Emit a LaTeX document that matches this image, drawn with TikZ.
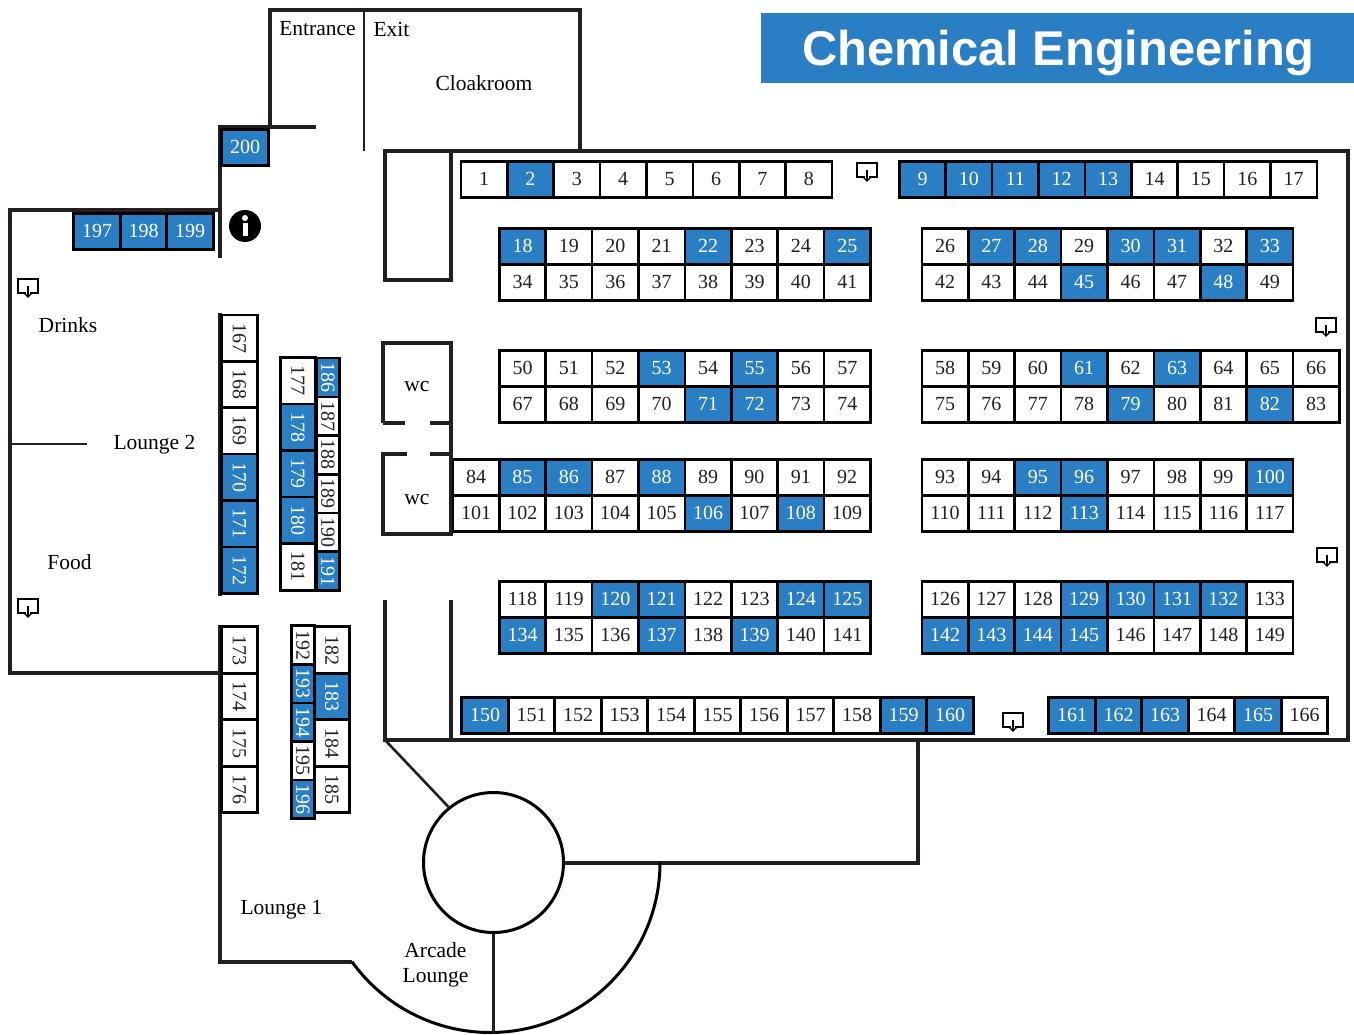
\documentclass[tikz,border=0pt]{standalone}
\usepackage{fontspec}
\setmainfont{Liberation Serif}
\setsansfont{Liberation Sans}
\usetikzlibrary{positioning}
\definecolor{boothblue}{HTML}{2A7EC4}
\definecolor{wallgray}{HTML}{231F20}
\tikzset{
 wall/.style={draw=wallgray,line width=4pt},
 thinwall/.style={draw=wallgray,line width=2.6pt},
 booth/.style={draw=black,line width=2.6pt,inner sep=0pt,font=\fontsize{20}{20}\selectfont},
 wt/.style={booth,fill=white,text=wallgray},
 bl/.style={booth,fill=boothblue,text=white},
 place/.style={text=black,font=\fontsize{21.5}{25}\selectfont,align=center,inner sep=0pt},
 exitmark/.pic={
  \draw[black,line width=1.1pt] (-2,6)--(-10,6)--(-10,-8)--(10,-8)--(10,6)--(2,6);
  \draw[black,line width=1.1pt] (0,-1)--(0,10);
  \draw[black,line width=1.1pt] (-3.5,6.5)--(0,10)--(3.5,6.5);
 }
}
\newcommand{\boothrow}[4]{\foreach \n/\c [count=\i from 0] in {#4}
 \node[\c,minimum width=#3,minimum height=36] (b\n) at ({#1+\i*#3},#2+0.3) {\n};}
\newcommand{\boothcol}[5]{\foreach \n/\c [count=\i from 0] in {#5}
 \node[\c,rotate=-90,minimum width=#3,minimum height=#4] (b\n) at (#1,{#2+\i*#3}) {\n};}
\begin{document}
\begin{tikzpicture}[x=1pt,y=-1pt]
 \useasboundingbox (0,0) rectangle (1354,1035);
 \fill[boothblue] (761,13) rectangle (1354,83);
 \node[text=white,inner sep=0pt,font=\sffamily\bfseries\fontsize{48.8}{50}\selectfont] (title) at (1058.5,53) {Chemical Engineering};

 \draw[wall] (270,127)--(270,10)--(580,10)--(580,151);
 \draw[thinwall] (364,10)--(364,151);
 \draw[wall] (316,127)--(220,127)--(220,258);
 \draw[wall] (220,210)--(10,210)--(10,673)--(220,673);
 \draw[wall] (220,313)--(220,596);
 \draw[wall] (352,962)--(220,962)--(220,625);
 \draw[draw=wallgray,line width=2pt] (10,444)--(87,444);
 \draw[wall] (385,600)--(385,740)--(1348,740)--(1348,151)--(385,151)--(385,280)--(451,280)--(451,151);
 \draw[wall] (451,600)--(451,740);
 \draw[wall] (383,423)--(383,343)--(451,343)--(451,534)--(383,534)--(383,454)--(407,454);
 \draw[wall] (383,423)--(405,423);
 \draw[wall] (430,423)--(451,423);
 \draw[wall] (430,454)--(451,454);

 \node[draw=black,fill=white,line width=3pt,circle,minimum size=140,inner sep=0pt] (hub) at (493.5,862.5) {};
 \draw[thinwall] (385,740)--(hub.129);
 \draw[wall] (hub.0)-|(918,740);
 \draw[draw=black,line width=3pt] (660,862.5) arc[start angle=0,end angle=-144.3,radius=170pt];
 \draw[thinwall] (hub.270)--(493.5,1033);

 \boothrow{484}{179}{46.4}{1/wt,2/bl,3/wt,4/wt,5/wt,6/wt,7/wt,8/wt}
 \boothrow{922.5}{179}{46.4}{9/bl,10/bl,11/bl,12/bl,13/bl,14/wt,15/wt,16/wt,17/wt}
 \boothrow{522.5}{246}{46.4}{18/bl,19/wt,20/wt,21/wt,22/bl,23/wt,24/wt,25/bl}
 \boothrow{945}{246}{46.4}{26/wt,27/bl,28/bl,29/wt,30/bl,31/bl,32/wt,33/bl}
 \boothrow{522.5}{282}{46.4}{34/wt,35/wt,36/wt,37/wt,38/wt,39/wt,40/wt,41/wt}
 \boothrow{945}{282}{46.4}{42/wt,43/wt,44/wt,45/bl,46/wt,47/wt,48/bl,49/wt}
 \boothrow{522.5}{368}{46.4}{50/wt,51/wt,52/wt,53/bl,54/wt,55/bl,56/wt,57/wt}
 \boothrow{945}{368}{46.4}{58/wt,59/wt,60/wt,61/bl,62/wt,63/bl,64/wt,65/wt,66/wt}
 \boothrow{522.5}{404}{46.4}{67/wt,68/wt,69/wt,70/wt,71/bl,72/bl,73/wt,74/wt}
 \boothrow{945}{404}{46.4}{75/wt,76/wt,77/wt,78/wt,79/bl,80/wt,81/wt,82/bl,83/wt}
 \boothrow{476}{477}{46.4}{84/wt,85/bl,86/bl,87/wt,88/bl,89/wt,90/wt,91/wt,92/wt}
 \boothrow{945}{477}{46.4}{93/wt,94/wt,95/bl,96/bl,97/wt,98/wt,99/wt,100/bl}
 \boothrow{476}{513}{46.4}{101/wt,102/wt,103/wt,104/wt,105/wt,106/bl,107/wt,108/bl,109/wt}
 \boothrow{945}{513}{46.4}{110/wt,111/wt,112/wt,113/bl,114/wt,115/wt,116/wt,117/wt}
 \boothrow{522.5}{599}{46.4}{118/wt,119/wt,120/bl,121/bl,122/wt,123/wt,124/bl,125/bl}
 \boothrow{945}{599}{46.4}{126/wt,127/wt,128/wt,129/bl,130/bl,131/bl,132/bl,133/wt}
 \boothrow{522.5}{635}{46.4}{134/bl,135/wt,136/wt,137/bl,138/wt,139/bl,140/wt,141/wt}
 \boothrow{945}{635}{46.4}{142/bl,143/bl,144/bl,145/bl,146/wt,147/wt,148/wt,149/wt}
 \boothrow{485}{715}{46.5}{150/bl,151/wt,152/wt,153/wt,154/wt,155/wt,156/wt,157/wt,158/wt,159/bl,160/bl}
 \boothrow{1072}{715}{46.5}{161/bl,162/bl,163/bl,164/wt,165/bl,166/wt}
 \boothrow{97}{231}{46.5}{197/bl,198/bl,199/bl}
 \boothrow{245}{147}{47.5}{200/bl}

 \boothcol{239.5}{338}{46.4}{36}{167/wt,168/wt,169/wt,170/bl,171/bl,172/bl}
 \boothcol{239.5}{650}{46.5}{36}{173/wt,174/wt,175/wt,176/wt}
 \boothcol{298}{380.5}{46.6}{35}{177/wt,178/bl,179/bl,180/bl,181/wt}
 \boothcol{332}{650}{46.5}{35}{182/wt,183/bl,184/wt,185/wt}
 \boothcol{328}{377.5}{38.7}{23}{186/bl,187/wt,188/wt,189/wt,190/wt,191/bl}
 \boothcol{303}{645}{38.6}{23}{192/wt,193/bl,194/bl,195/wt,196/bl}

 \node[place] (entrance) at (317.5,29) {Entrance};
 \node[place] (exit) at (391.5,29) {Exit};
 \node[place] (cloak) at (484,83) {Cloakroom};
 \node[place] (drinks) at (68,325) {Drinks};
 \node[place] (lounge2) at (154.5,445) {Lounge 2};
 \node[place] (food) at (69.5,562) {Food};
 \node[place] (lounge1) at (281.5,910) {Lounge 1};
 \node[place] (arcade) at (435.5,964.5) {Arcade\\Lounge};
 \node[place] (wcup) at (417,387) {wc};
 \node[place] (wcdown) at (417,500) {wc};

 \fill[black] (245,226) circle (16);
 \fill[white] (245,218) circle (3);
 \fill[white] (242.5,223) rectangle (247.5,236);

 \pic at (28,287) {exitmark};
 \pic at (28,607) {exitmark};
 \pic at (867,171) {exitmark};
 \pic at (1326,326) {exitmark};
 \pic at (1327,556) {exitmark};
 \pic at (1013,721) {exitmark};
\end{tikzpicture}
\end{document}
